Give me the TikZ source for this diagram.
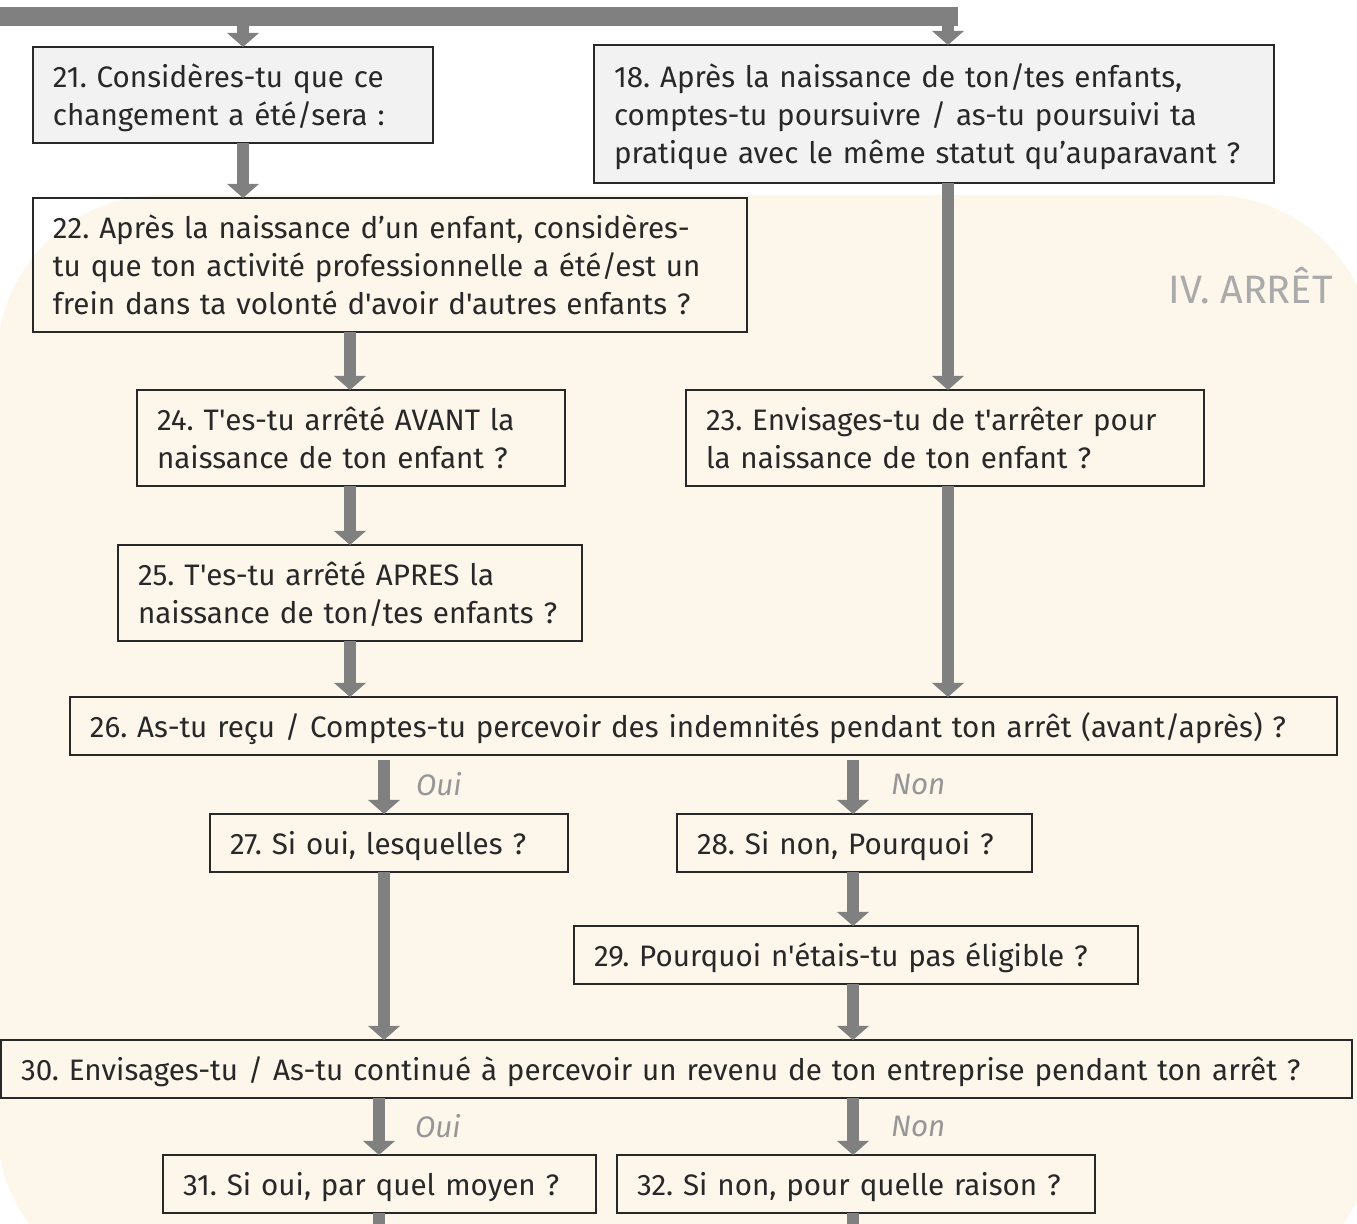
\documentclass[tikz,border=0pt]{standalone}
\usepackage{fontspec}
\setmainfont{Fira Sans}[Ligatures=TeXOff]
\usetikzlibrary{arrows.meta,positioning}
\frenchspacing

\definecolor{bgcream}{RGB}{252,246,235}
\definecolor{boxgray}{RGB}{242,242,242}
\definecolor{arrowgray}{RGB}{128,128,128}
\definecolor{labelgray}{RGB}{150,150,150}
\definecolor{titlegray}{RGB}{170,170,170}
\definecolor{inkgray}{RGB}{40,40,40}

% strut for first and last line of a question
\newcommand{\qs}{\rule[-3.5pt]{0pt}{19pt}}

\tikzset{
  qbox/.style={draw=inkgray, line width=1pt, anchor=north west, outer sep=0pt,
    inner xsep=10pt, inner ysep=5pt, text width=#1, align=left, text=inkgray,
    font=\fontsize{14.8}{19}\selectfont},
  qgray/.style={qbox=#1, fill=boxgray},
  flow/.style={draw=arrowgray, line width=6pt, -{Triangle[width=15.5pt,length=7pt]}},
  bar/.style={draw=arrowgray, line width=9.5pt},
  branch/.style={font=\fontsize{14.8}{19}\selectfont\itshape, text=labelgray, inner sep=0pt},
}

\begin{document}
\begin{tikzpicture}[x=0.5pt, y=-0.5pt]
\useasboundingbox (0,0) rectangle (1357,1224);
% section background
\fill[bgcream, rounded corners=82.5pt] (-3,195) rectangle (1375,1291);
\node[anchor=base east, inner sep=0pt, text=titlegray, font=\fontsize{19.8}{23}\selectfont] (title) at (1333,304) {IV. ARRÊT};

% columns of the arrows
\coordinate (colA) at (243,0);
\coordinate (colB) at (350,0);
\coordinate (colC) at (948,0);
\coordinate (colE) at (384,0);
\coordinate (colF) at (379,0);
\coordinate (colG) at (853,0);
\coordinate (barL) at (-10,17);
\coordinate (barR) at (958,17);
\coordinate (exitL) at (379,1250);
\coordinate (exitR) at (853,1250);

% questions
\node[qgray=180pt] (q21) at (33,47) {\qs 21. Considères-tu que ce\\changement a été/sera~:\qs};
\node[qgray=320pt, inner ysep=6pt] (q18) at (594,45) {\qs 18. Après la naissance de ton/tes enfants,\\comptes-tu poursuivre / as-tu poursuivi ta\\pratique avec le même statut qu’auparavant~?\qs};
\node[qbox=337pt] (q22) at (33,198) {\qs 22. Après la naissance d’un enfant, considères-\\tu que ton activité professionnelle a été/est un\\frein dans ta volonté d'avoir d'autres enfants~?\qs};
\node[qbox=194pt] (q24) at (137,390) {\qs 24. T'es-tu arrêté AVANT la\\naissance de ton enfant~?\qs};
\node[qbox=239pt] (q23) at (686,390) {\qs 23. Envisages-tu de t'arrêter pour\\la naissance de ton enfant~?\qs};
\node[qbox=212pt] (q25) at (118,545) {\qs 25. T'es-tu arrêté APRES la\\naissance de ton/tes enfants~?\qs};
\node[qbox=613.5pt] (q26) at (70,697) {\qs 26. As-tu reçu / Comptes-tu percevoir des indemnités pendant ton arrêt (avant/après)~?\qs};
\node[qbox=159pt] (q27) at (210,814) {\qs 27. Si oui, lesquelles~?\qs};
\node[qbox=157.5pt] (q28) at (677,814) {\qs 28. Si non, Pourquoi~?\qs};
\node[qbox=262pt] (q29) at (574,926) {\qs 29. Pourquoi n'étais-tu pas éligible~?\qs};
\node[qbox=655.5pt] (q30) at (1,1040) {\qs 30. Envisages-tu / As-tu continué à percevoir un revenu de ton entreprise pendant ton arrêt~?\qs};
\node[qbox=196.5pt] (q31) at (163,1155) {\qs 31. Si oui, par quel moyen~?\qs};
\node[qbox=219pt] (q32) at (617,1155) {\qs 32. Si non, pour quelle raison~?\qs};

% arrows
\draw[bar] (barL) -- (barR);
\draw[flow] (barL -| colA) -- (q21.north -| colA);
\draw[flow] (barR -| colC) -- (q18.north -| colC);
\draw[flow] (q21.south -| colA) -- (q22.north -| colA);
\draw[flow] (q22.south -| colB) -- (q24.north -| colB);
\draw[flow] (q24.south -| colB) -- (q25.north -| colB);
\draw[flow] (q25.south -| colB) -- (q26.north -| colB);
\draw[flow] (q18.south -| colC) -- (q23.north -| colC);
\draw[flow] (q23.south -| colC) -- (q26.north -| colC);
\draw[flow, shorten <=2.5pt] (q26.south -| colE) -- node[branch, right=13pt] (oui1) {Oui} (q27.north -| colE);
\draw[flow, shorten <=2.5pt] (q26.south -| colG) -- node[branch, right=16pt] (non1) {Non} (q28.north -| colG);
\draw[flow] (q27.south -| colE) -- (q30.north -| colE);
\draw[flow] (q28.south -| colG) -- (q29.north -| colG);
\draw[flow] (q29.south -| colG) -- (q30.north -| colG);
\draw[flow] (q30.south -| colF) -- node[branch, right=15pt] (oui2) {Oui} (q31.north -| colF);
\draw[flow] (q30.south -| colG) -- node[branch, right=16pt] (non2) {Non} (q32.north -| colG);
\draw[flow] (q31.south -| colF) -- (exitL);
\draw[flow] (q32.south -| colG) -- (exitR);
\end{tikzpicture}
\end{document}
